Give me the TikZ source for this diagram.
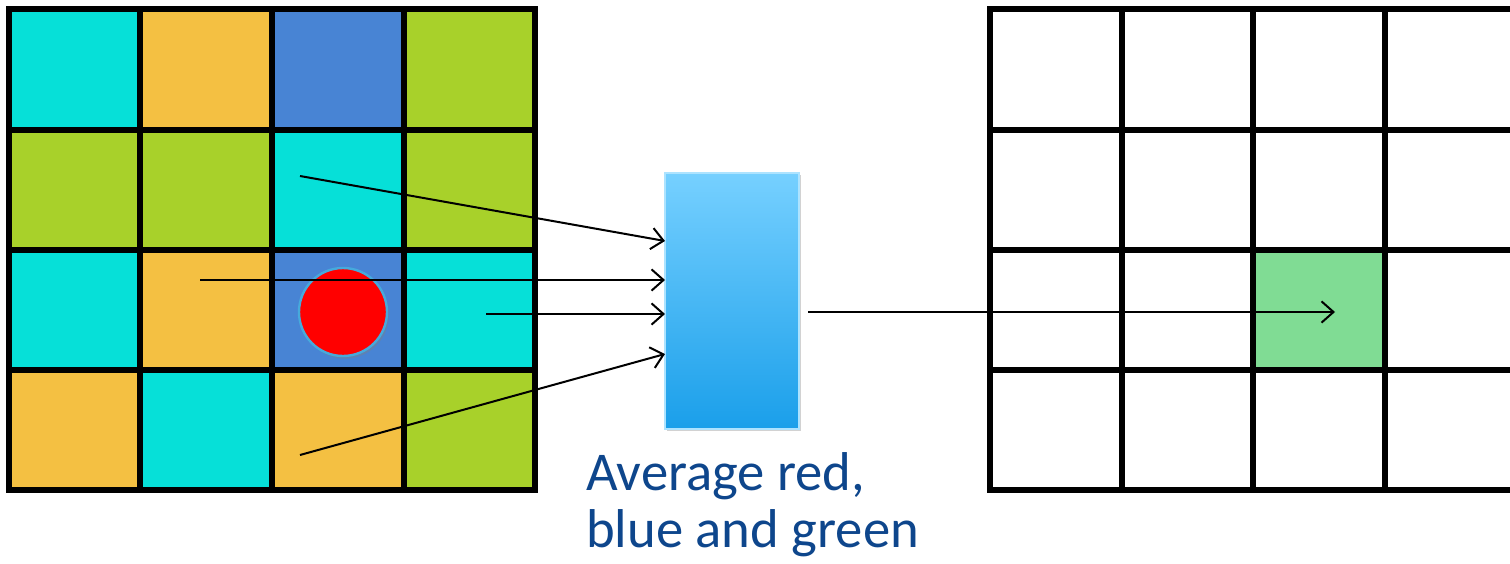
\documentclass[tikz,border=0pt]{standalone}
\usepackage{fontspec}
\setmainfont{Carlito}
\usetikzlibrary{arrows.meta,shadows}
\definecolor{cCyan}{RGB}{6,224,216}
\definecolor{cOrange}{RGB}{244,192,66}
\definecolor{cBlue}{RGB}{72,132,212}
\definecolor{cGreen}{RGB}{168,209,42}
\definecolor{cMint}{RGB}{128,220,148}
\definecolor{cTop}{RGB}{118,208,255}
\definecolor{cBot}{RGB}{26,159,234}
\definecolor{cRing}{RGB}{70,170,220}
\definecolor{cText}{RGB}{14,70,140}
\tikzset{
  gridline/.style={line width=4.5pt, line cap=rect},
  arr/.style={line width=1.5pt, -{Straight Barb[length=9pt,width=16pt,line width=1.5pt]}},
  avgbox/.style={rectangle, draw=cTop!60!white, line width=0.8pt, top color=cTop, bottom color=cBot,
    minimum width=100.5pt, minimum height=192pt, inner sep=0pt,
    drop shadow={shadow xshift=1.5pt, shadow yshift=-1.5pt, opacity=0.35}},
  dot/.style={circle, fill=red, draw=cRing, line width=1.8pt, minimum size=66pt, inner sep=0pt,
    drop shadow={shadow xshift=1.5pt, shadow yshift=-2pt, opacity=0.4}},
  lbl/.style={text=cText, font=\fontsize{41}{42.75}\selectfont, align=left, inner sep=0pt, anchor=base west}
}
\begin{document}
\begin{tikzpicture}[x=0.75pt,y=-0.75pt]
\useasboundingbox (0,0) rectangle (1510,564);
\clip (0,0) rectangle (1510,564);
\fill[white] (0,0) rectangle (1510,564);
% left grid cells
\foreach \r/\yt/\yb in {1/9/130,2/130/250,3/250/370,4/370/490}{
  \foreach \c/\xl/\xr in {1/9/140,2/140/272,3/272/404,4/404/535}{
    \pgfmathsetmacro{\idx}{int((\r-1)*4+\c)}
    \ifcase\idx\or
      \def\col{cCyan}\or\def\col{cOrange}\or\def\col{cBlue}\or\def\col{cGreen}\or
      \def\col{cGreen}\or\def\col{cGreen}\or\def\col{cCyan}\or\def\col{cGreen}\or
      \def\col{cCyan}\or\def\col{cOrange}\or\def\col{cBlue}\or\def\col{cCyan}\or
      \def\col{cOrange}\or\def\col{cCyan}\or\def\col{cOrange}\or\def\col{cGreen}\fi
    \fill[\col] (\xl,\yt) rectangle (\xr,\yb);
  }
}
\foreach \x in {9,140,272,404,535}{\draw[gridline] (\x,9) -- (\x,490);}
\foreach \y in {9,130,250,370,490}{\draw[gridline] (9,\y) -- (535,\y);}
% right grid
\node[fill=cMint, minimum width=99pt, minimum height=90pt, inner sep=0pt] (res) at (1319,310) {};
\foreach \x in {990,1122,1253,1385,1517}{\draw[gridline] (\x,9) -- (\x,490);}
\foreach \y in {9,130,250,370,490}{\draw[gridline] (990,\y) -- (1530,\y);}
% red dot
\node[dot] (d) at (343,312) {};
% average box
\node[avgbox] (avg) at (732,301) {};
% connectors
\coordinate (s1) at (300,176);
\coordinate (s2) at (200,280);
\coordinate (s3) at (486,314);
\coordinate (s4) at (300,455);
\coordinate (t1) at (665,241);
\coordinate (t2) at (665,280);
\coordinate (t3) at (665,314);
\coordinate (t4) at (665,354);
\coordinate (o) at (808,312);
\coordinate (e) at (1335,312);
\draw[arr] (s1) -- (t1);
\draw[arr] (s2) -- (t2);
\draw[arr] (s3) -- (t3);
\draw[arr] (s4) -- (t4);
\draw[arr] (o) -- (e);
% label
\node[lbl] (txt) at (586,547) {Average red,\\blue and green};
\end{tikzpicture}
\end{document}
